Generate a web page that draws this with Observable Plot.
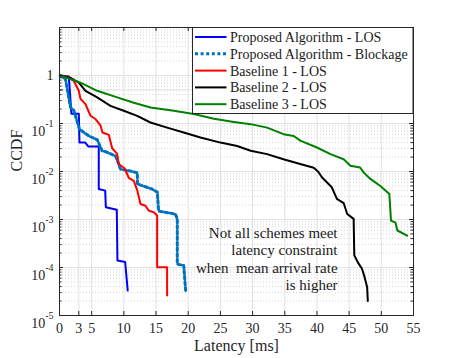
<!DOCTYPE html>
<html><head><meta charset="utf-8">
<script src="https://cdn.jsdelivr.net/npm/d3@7"></script>
<script src="https://cdn.jsdelivr.net/npm/@observablehq/plot@0.6"></script>
<style>body{margin:0;background:#fff} #chart{width:457px;height:358px} #chart svg text{font-family:'Liberation Serif','Times New Roman',serif}</style>
</head><body><div id="chart"></div>
<script>
// ---- data ----
const seriesNames = ["Proposed Algorithm - LOS", "Proposed Algorithm - Blockage", "Baseline 1 - LOS", "Baseline 2 - LOS", "Baseline 3 - LOS"];

const propLosX = [0.1, 1.45, 1.85, 3.0, 3.1, 4.0, 4.5, 6.1, 6.1, 7.1, 7.2, 8.9, 9.0, 10.2, 10.6];
const propLosY = [1, 0.95, 0.16, 0.16, 0.04, 0.04, 0.033, 0.033, 0.0043, 0.004, 0.0018, 0.0016, 0.00014, 0.00013, 3.3e-5];

const propBlkX = [0.1, 0.93, 1.71, 1.97, 2.2, 3.1, 4.55, 5.85, 6.63, 7.14, 8.7, 9.2, 9.47, 11.3, 12.1, 12.1, 14.4, 15.2, 15.4, 18.0, 18.3, 18.3, 19.3, 19.6];
const propBlkY = [1, 0.84, 0.215, 0.199, 0.19, 0.076, 0.055, 0.046, 0.027, 0.026, 0.021, 0.0143, 0.0112, 0.0100, 0.0094, 0.0055, 0.0043, 0.0037, 0.0015, 0.0013, 0.00103, 0.000118, 0.00011, 3.3e-5];

const base1X = [0.1, 1.44, 2.22, 3.0, 3.26, 4.04, 4.81, 5.59, 6.37, 6.68, 7.66, 8.18, 8.96, 9.2, 10.1, 10.76, 11.54, 12.07, 12.58, 13.35, 13.87, 14.64, 15.17, 15.17, 16.72, 16.72];
const base1Y = [1, 0.935, 0.77, 0.48, 0.326, 0.253, 0.145, 0.124, 0.091, 0.065, 0.058, 0.0305, 0.0232, 0.0143, 0.0117, 0.0074, 0.0064, 0.0041, 0.0021, 0.00193, 0.00153, 0.00142, 0.00121, 0.000101, 0.000101, 2.6e-5];

const base2X = [0.1, 1.7, 3.0, 4.04, 5.85, 7.92, 9.98, 12.07, 14.13, 16.72, 19.3, 21.9, 25.0, 27.6, 29.7, 32.25, 34.8, 37.4, 39.5, 40.2, 40.8, 42.3, 43.1, 44.15, 44.7, 45.7, 45.8, 46.35, 47.0, 47.4, 47.8, 47.9];
const base2Y = [1, 0.89, 0.71, 0.48, 0.35, 0.233, 0.184, 0.144, 0.105, 0.082, 0.065, 0.051, 0.040, 0.034, 0.027, 0.023, 0.018, 0.0143, 0.012, 0.0099, 0.0075, 0.0047, 0.0027, 0.0022, 0.0013, 0.00103, 0.00018, 0.000128, 9.4e-5, 6.3e-5, 3.9e-5, 2.0e-5];

const base3X = [0.1, 3.26, 5.85, 8.96, 11.54, 14.13, 17.75, 20.85, 24.0, 27.1, 29.7, 32.25, 34.8, 36.4, 37.4, 40.0, 42.1, 44.15, 45.2, 46.7, 47.25, 48.3, 49.85, 51.25, 51.5, 52.2, 52.5, 54.0];
const base3Y = [1, 0.71, 0.48, 0.35, 0.27, 0.215, 0.184, 0.157, 0.125, 0.108, 0.097, 0.082, 0.060, 0.055, 0.044, 0.0316, 0.023, 0.018, 0.0132, 0.0121, 0.0096, 0.0070, 0.0050, 0.0034, 0.00095, 0.00086, 0.00059, 4.6e-4];

const xTicks = [0, 3, 5, 10, 15, 20, 25, 30, 35, 40, 45, 50, 55];
const yMajor = [1e-5, 1e-4, 1e-3, 1e-2, 1e-1, 0.5, 1];
const yLabels = ["10^-5", "10^-4", "10^-3", "10^-2", "10^-1", "0.5", "1"];
const annotation = "Not all schemes meet\nlatency constraint\nwhen  mean arrival rate\nis higher";

// ---- build ----
const FONT = "'Liberation Serif', 'Times New Roman', serif";
const xs = [propLosX, propBlkX, base1X, base2X, base3X];
const ys = [propLosY, propBlkY, base1Y, base2Y, base3Y];
const styles = [
  {color: "#0000ff", width: 2, dash: null},
  {color: "#0072bd", width: 3, dash: "3,2.6"},
  {color: "#ff0000", width: 2, dash: null},
  {color: "#000000", width: 2, dash: null},
  {color: "#008000", width: 2, dash: null}
];
const series = seriesNames.map((name, i) => ({name, ...styles[i], rows: xs[i].map((x, j) => ({x, y: ys[i][j]}))}));

const yMinor = [];
for (let n = -5; n <= 0; n++) for (let k = 2; k <= 9; k++) yMinor.push(k * Math.pow(10, n));
const labelOf = new Map(yMajor.map((v, i) => [v, yLabels[i]]));

const W = 457, H = 358, mL = 59, mR = 44, mT = 27, mB = 43;
const fw = W - mL - mR, fh = H - mT - mB;
const tickC = "#262626";

const svg = Plot.plot({
  width: W, height: H,
  marginLeft: mL, marginRight: mR, marginTop: mT, marginBottom: mB,
  style: {fontFamily: FONT, fontSize: "14px", background: "#fff", color: "#262626"},
  x: {domain: [0, 55]},
  y: {type: "log", domain: [1e-5, 10]},
  marks: [
    Plot.ruleY(yMinor, {y: d => d, stroke: "#d4d4d4", strokeDasharray: "1,2"}),
    Plot.ruleY(yMajor, {y: d => d, stroke: "#e2e2e2"}),
    Plot.ruleX(xTicks, {x: d => d, stroke: "#e2e2e2"}),
    ...series.map(s => Plot.line(s.rows, {x: "x", y: "y", stroke: s.color, strokeWidth: s.width, strokeDasharray: s.dash, strokeLinejoin: "round"})),
    Plot.frame({stroke: tickC}),
    Plot.tickX(xTicks, {x: d => d, insetTop: fh - 4, stroke: tickC}),
    Plot.tickX(xTicks, {x: d => d, insetBottom: fh - 4, stroke: tickC}),
    Plot.tickY(yMajor, {y: d => d, insetRight: fw - 4, stroke: tickC}),
    Plot.tickY(yMajor, {y: d => d, insetLeft: fw - 4, stroke: tickC}),
    Plot.tickY(yMinor, {y: d => d, insetRight: fw - 2.5, stroke: tickC}),
    Plot.tickY(yMinor, {y: d => d, insetLeft: fw - 2.5, stroke: tickC}),
    Plot.axisX(xTicks, {tickSize: 0, tickPadding: 8, fontSize: 14, fontFamily: FONT, label: null, tickFormat: d => String(d)}),
    Plot.axisY(yMajor, {tickSize: 0, tickPadding: 6, fontSize: 14, fontFamily: FONT, label: null, tickFormat: d => labelOf.get(d)}),
    Plot.text(["CCDF"], {text: d => d, frameAnchor: "left", dx: -43, rotate: -90, fontSize: 16, fontFamily: FONT, fill: "#262626"}),
    Plot.text(["Latency [ms]"], {text: d => d, frameAnchor: "bottom", dy: 35, fontSize: 16, fontFamily: FONT, fill: "#262626"}),
    Plot.text([annotation], {x: 43.2, y: 1.55e-4, text: d => d, textAnchor: "end", lineAnchor: "middle", lineHeight: 1.16, fontSize: 15, fontFamily: FONT, fill: "#1a1a1a"})
  ]
});

// superscripts for decade labels
d3.select(svg).selectAll('g[aria-label="y-axis tick label"] text').each(function () {
  const t = this.textContent;
  if (t.startsWith("10^")) {
    const e = t.slice(3);
    const sel = d3.select(this);
    sel.text("10").attr("dy", "7.9px");
    sel.append("tspan").attr("dy", "-9px").attr("font-size", "10px").text(e);
  }
});
d3.select(svg).selectAll('g[aria-label="text"] text, g[aria-label="text"] tspan').attr("xml:space", "preserve").style("white-space", "pre");

// legend box
const lg = d3.select(svg).append("g").attr("font-family", FONT).attr("font-size", 14).attr("text-anchor", "start");
lg.append("rect").attr("x", 192.5).attr("y", mT + 0.5).attr("width", W - mR - 192.5).attr("height", 86)
  .attr("fill", "#fff").attr("stroke", tickC);
series.forEach((s, i) => {
  const cy = 37 + i * 16.8;
  lg.append("line").attr("x1", 195).attr("x2", 226.5).attr("y1", cy).attr("y2", cy)
    .attr("stroke", s.color).attr("stroke-width", s.width).attr("stroke-dasharray", s.dash);
  lg.append("text").attr("x", 230).attr("y", cy).attr("dy", "0.35em").attr("text-anchor", "start").attr("fill", "#1a1a1a").text(s.name);
});

document.getElementById("chart").appendChild(svg);
</script></body></html>
